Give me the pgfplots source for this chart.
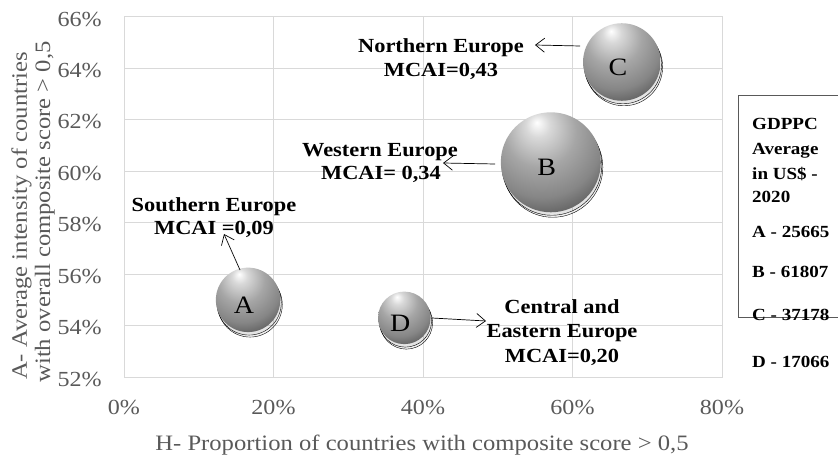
\documentclass[border=0pt]{standalone}
\usepackage{pgfplots}
\pgfplotsset{compat=1.18}
\usepackage{fontspec}
\setmainfont{Liberation Serif}[FakeStretch=1.12]
\usetikzlibrary{arrows.meta}
\definecolor{tickgray}{HTML}{595959}
\definecolor{gridgray}{HTML}{D9D9D9}
\pgfdeclareradialshading{softball}{\pgfpoint{-7bp}{20bp}}{%
  color(0bp)=(white); color(6bp)=(gray!30!white); color(18bp)=(gray!70!white);
  color(30bp)=(gray!95); color(42bp)=(gray!60!black); color(54bp)=(black!80); color(80bp)=(black!80)}
\pgfdeclareplotmark{softball}{%
  \pgfpathcircle{\pgfpointorigin}{\pgfplotmarksize}%
  \pgfshadepath{softball}{0}\pgfusepath{discard}}
% bubble radius in pt from GDP per capita (area proportional to GDPPC)
\newcommand{\bubble}[4]{%
  \edef\bubrad{\fpeval{50*sqrt(#3/61807)}pt}%
  \edef\tmp{\noexpand\addplot[only marks, mark=*, mark size=\bubrad,
    mark options={draw=none, fill=black, fill opacity=0.05, xshift=2pt, yshift=-5pt}]
    coordinates {(#1,#2)};}\tmp
  \edef\tmp{\noexpand\addplot[only marks, mark=*, mark size=\bubrad,
    mark options={draw=none, fill=black, fill opacity=0.06, xshift=1pt, yshift=-3pt}]
    coordinates {(#1,#2)};}\tmp
  \edef\tmp{\noexpand\addplot[only marks, mark=softball, mark size=\bubrad,
    nodes near coords={#4},
    nodes near coords style={anchor=center, font=\noexpand\fontsize{25}{25}\noexpand\selectfont, text=black, xshift=-4pt, yshift=-5pt}]
    coordinates {(#1,#2)};}\tmp
}
\begin{document}
\begin{tikzpicture}[x=1pt,y=1pt]
\begin{axis}[
  at={(124pt,-377pt)}, anchor=south west,
  scale only axis, width=598pt, height=360pt,
  xmin=0, xmax=80, ymin=52, ymax=66,
  xtick={0,20,40,60,80}, ytick={52,54,...,66},
  /pgf/number format/assume math mode=true,
  xticklabel={\pgfmathprintnumber{\tick}\%},
  yticklabel={\pgfmathprintnumber{\tick}\%},
  tick label style={font=\fontsize{21.5}{21.5}\selectfont, text=tickgray},
  xticklabel style={anchor=north, inner sep=0pt, yshift=-23pt},
  yticklabel style={anchor=east, inner sep=0pt, xshift=-22pt, yshift=-2pt},
  grid=major, major grid style={draw=gridgray, line width=1pt},
  axis line style={draw=gridgray, line width=1pt},
  tick style={draw=none},
  clip=false,
]
% x (%), y (%), GDPPC (US$), label
\bubble{16.6}{55.0}{25665}{A}
\bubble{57.1}{60.35}{61807}{B}
\bubble{66.6}{64.25}{37178}{C}
\bubble{37.5}{54.3}{17066}{D}
\end{axis}

% annotations (pixel coordinates)
\begin{scope}[every node/.style={font=\bfseries\fontsize{20}{24}\selectfont, inner sep=0pt}]
\node[anchor=base] at (214,-212) {Southern Europe};
\node[anchor=base] at (214,-235) {MCAI =0,09};
\node[anchor=base] at (441,-53) {Northern Europe};
\node[anchor=base] at (441,-77) {MCAI=0,43};
\node[anchor=base] at (380,-157) {Western Europe};
\node[anchor=base] at (381,-180) {MCAI= 0,34};
\node[anchor=base] at (562,-313) {Central and};
\node[anchor=base] at (562,-337) {Eastern Europe};
\node[anchor=base] at (562,-362) {MCAI=0,20};
\end{scope}
\begin{scope}[line width=0.7pt, -{Straight Barb[length=9pt, width=14pt, line width=0.7pt]}]
\draw (240,-270) -- (224,-234);
\draw (580,-46) -- (535,-45);
\draw (495,-164) -- (443,-163);
\draw (432,-318) -- (486,-321);
\end{scope}

% axis titles
\node[anchor=base, text=tickgray, font=\fontsize{22}{22}\selectfont, inner sep=0pt] at (422,-450)
  {H- Proportion of countries with composite score > 0,5};
\node[anchor=base, rotate=90, text=tickgray, font=\fontsize{22}{22}\selectfont, inner sep=0pt] at (27,-216)
  {A- Average intensity of countries};
\node[anchor=base, rotate=90, text=tickgray, font=\fontsize{22}{22}\selectfont, inner sep=0pt] at (50,-212)
  {with overall composite score > 0,5};

% legend box
\draw[draw=tickgray, line width=0.8pt] (738,-95) rectangle (845,-317);
\begin{scope}[every node/.style={font=\bfseries\fontsize{17}{17}\selectfont, inner sep=0pt, anchor=base west}]
\node at (752,-130) {GDPPC};
\node at (752,-155) {Average};
\node at (752,-180) {in US\$ -};
\node at (752,-203) {2020};
\node at (752,-237) {A - 25665};
\node at (752,-277) {B - 61807};
\node at (752,-320) {C - 37178};
\node at (752,-367) {D - 17066};
\end{scope}

\pgfresetboundingbox
\useasboundingbox (0,0) rectangle (838,-457);
\end{tikzpicture}
\end{document}
